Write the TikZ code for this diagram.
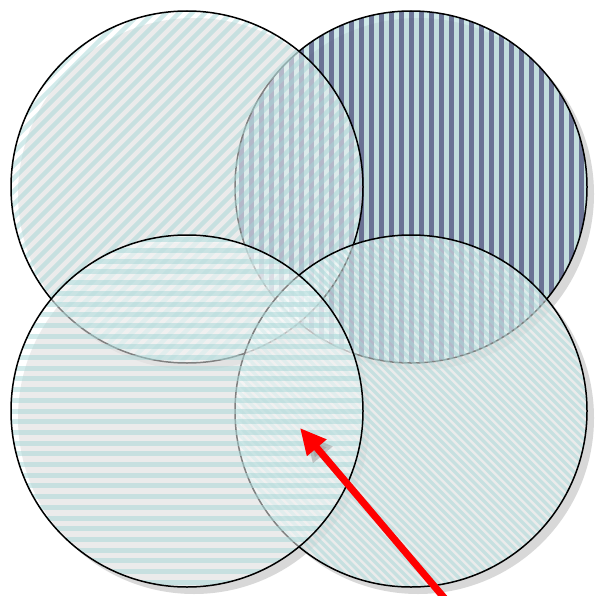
\documentclass[tikz,border=0pt]{standalone}
\usetikzlibrary{arrows.meta,backgrounds}
\definecolor{lightbase}{RGB}{255,255,255}
\definecolor{tealstripe}{RGB}{164,214,214}
\definecolor{trlight}{RGB}{187,224,224}
\definecolor{trdark}{RGB}{70,70,118}
\begin{document}
\begin{tikzpicture}[x=1pt,y=-1pt,
  venn/.style={circle, minimum size=352pt, inner sep=0pt, draw=black, line width=1.5pt,
    fill opacity=0.5},
  vshadow/.style={fill=black!30, opacity=0.5},
  tlpat/.style={fill=lightbase, path picture={
      \begin{scope}[shift={(path picture bounding box.center)}]
      \foreach \k in {-30,...,30}
        \draw[tealstripe, draw opacity=0.5, line width=4.5pt] (\k*13-220,220) -- (\k*13+220,-220);
      \end{scope}}},
  trpat/.style={fill=trlight, fill opacity=0.7, path picture={
      \begin{scope}[shift={(path picture bounding box.center)}]
      \foreach \k in {-20,...,20}
        \draw[trdark, draw opacity=0.7, line width=5pt] (\k*10,-200) -- (\k*10,200);
      \end{scope}}},
  blpat/.style={fill=lightbase, path picture={
      \begin{scope}[shift={(path picture bounding box.center)}]
      \foreach \k in {-20,...,20}
        \draw[tealstripe, draw opacity=0.5, line width=5pt] (-200,\k*10.7) -- (200,\k*10.7);
      \end{scope}}},
  brpat/.style={fill=lightbase, path picture={
      \begin{scope}[shift={(path picture bounding box.center)}]
      \foreach \k in {-45,...,45}
        \draw[tealstripe, draw opacity=0.5, line width=3.2pt] (\k*8.5-220,-220) -- (\k*8.5+220,220);
      \end{scope}}},
  redarrow/.style={draw=red, line width=7pt, -{Triangle[length=26pt, width=24pt]}},
  arrowshadow/.style={draw=black!40, opacity=0.5, line width=7pt, -{Triangle[length=26pt, width=24pt]}}
]
\useasboundingbox (0,0) rectangle (596,596);
\clip (0,0) rectangle (596,596);
\node[venn, trpat] (tr) at (411,187) {};
\node[venn, tlpat] (tl) at (187,187) {};
\node[venn, brpat] (br) at (411,411) {};
\node[venn, blpat] (bl) at (187,411) {};
\begin{scope}[on background layer]
  \foreach \n in {tr,tl,br,bl}
    \fill[vshadow] ([shift={(7,7)}]\n.center) circle[radius=176];
\end{scope}
\coordinate (tail) at (446,600);
\coordinate (tip) at (300,428);
\coordinate (stail) at (452,607);
\coordinate (stip) at (306,435);
\draw[arrowshadow] (stail) -- (stip);
\draw[redarrow] (tail) -- (tip);
\end{tikzpicture}
\end{document}
